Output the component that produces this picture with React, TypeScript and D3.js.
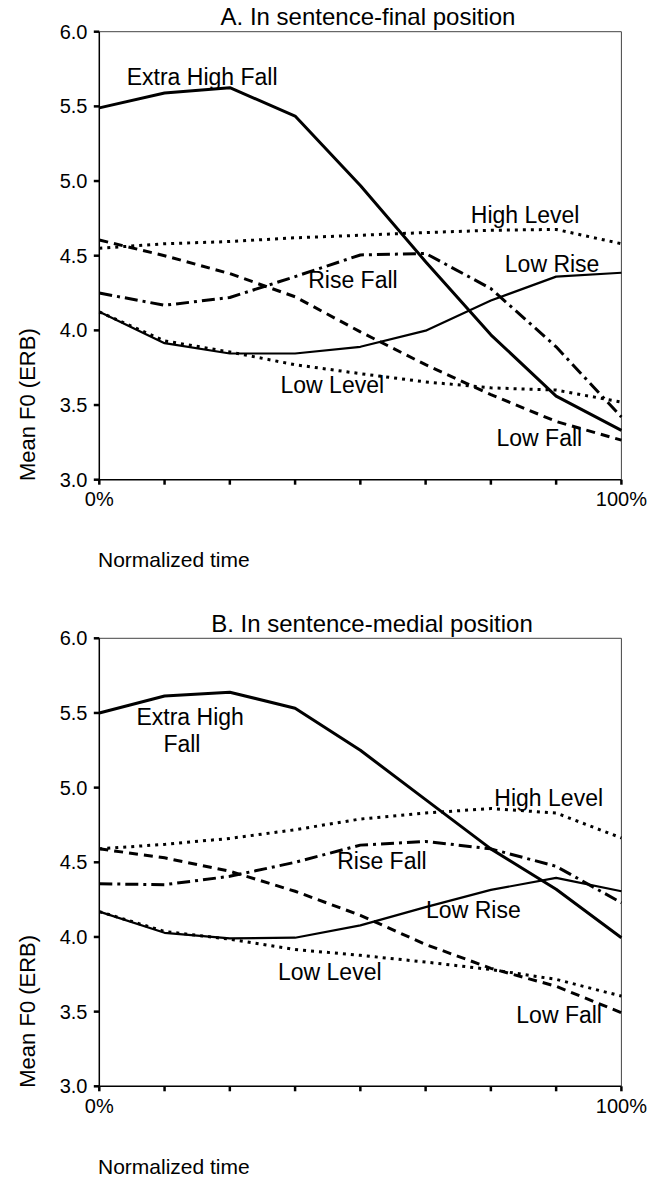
import React from 'react';
import * as d3 from 'd3';

// normalized time points (percent)
const TIME = [0, 12.5, 25, 37.5, 50, 62.5, 75, 87.5, 100];
const Y_TICKS = [3.0, 3.5, 4.0, 4.5, 5.0, 5.5, 6.0];
const X_TICK_LABELS: Record<number, string> = { 0: '0%', 100: '100%' };

// A. sentence-final
const FINAL_EXTRA_HIGH_FALL = [5.49, 5.59, 5.625, 5.435, 4.97, 4.46, 3.97, 3.56, 3.33];
const FINAL_HIGH_LEVEL = [4.55, 4.58, 4.595, 4.62, 4.637, 4.655, 4.67, 4.676, 4.58];
const FINAL_RISE_FALL = [4.25, 4.168, 4.22, 4.36, 4.505, 4.515, 4.28, 3.89, 3.42];
const FINAL_LOW_RISE = [4.124, 3.914, 3.845, 3.845, 3.89, 3.998, 4.2, 4.36, 4.386];
const FINAL_LOW_FALL = [4.605, 4.5, 4.38, 4.225, 3.99, 3.77, 3.57, 3.39, 3.265];
const FINAL_LOW_LEVEL = [4.124, 3.93, 3.855, 3.77, 3.71, 3.655, 3.615, 3.6, 3.52];

// B. sentence-medial
const MEDIAL_EXTRA_HIGH_FALL = [5.5, 5.614, 5.639, 5.532, 5.25, 4.92, 4.59, 4.32, 3.995];
const MEDIAL_HIGH_LEVEL = [4.59, 4.62, 4.66, 4.718, 4.79, 4.83, 4.86, 4.83, 4.663];
const MEDIAL_RISE_FALL = [4.356, 4.35, 4.406, 4.5, 4.615, 4.64, 4.59, 4.473, 4.229];
const MEDIAL_LOW_RISE = [4.17, 4.028, 3.99, 3.995, 4.078, 4.2, 4.315, 4.396, 4.306];
const MEDIAL_LOW_FALL = [4.59, 4.53, 4.44, 4.306, 4.145, 3.95, 3.79, 3.67, 3.493];
const MEDIAL_LOW_LEVEL = [4.17, 4.037, 3.985, 3.916, 3.877, 3.832, 3.782, 3.716, 3.604];

// line styles per tone
const STYLE = {
  extraHighFall: { width: 3, dash: null },
  highLevel: { width: 3, dash: '3,5' },
  riseFall: { width: 3, dash: '13,5,3,5' },
  lowRise: { width: 2.2, dash: null },
  lowFall: { width: 3, dash: '9,6' },
  lowLevel: { width: 3, dash: '3,5' },
};

// label anchors in data units (time %, ERB)
const FINAL_LABELS = [
  { text: 'Extra High Fall', t: 5.25, v: 5.643 },
  { text: 'High Level', t: 71.15, v: 4.72 },
  { text: 'Low Rise', t: 77.67, v: 4.391 },
  { text: 'Rise Fall', t: 40.01, v: 4.287 },
  { text: 'Low Level', t: 34.71, v: 3.578 },
  { text: 'Low Fall', t: 76.08, v: 3.223 },
];
const MEDIAL_LABELS = [
  { text: 'Extra High', t: 7.12, v: 5.419 },
  { text: 'Fall', t: 12.28, v: 5.237 },
  { text: 'High Level', t: 75.67, v: 4.879 },
  { text: 'Rise Fall', t: 45.57, v: 4.453 },
  { text: 'Low Rise', t: 62.59, v: 4.125 },
  { text: 'Low Level', t: 34.23, v: 3.712 },
  { text: 'Low Fall', t: 79.87, v: 3.422 },
];

const FONT = '"Liberation Sans", Arial, sans-serif';
const W = 647;
const H = 1177;
const PLOT_LEFT = 99.3;
const PLOT_RIGHT = 621.4;
const PLOT_H = 448;

const xScale = d3.scaleLinear().domain([0, 100]).range([PLOT_LEFT, PLOT_RIGHT]);

type Series = { key: keyof typeof STYLE; values: number[] };

const Panel = ({ top, title, titleX, series, labels }: {
  top: number; title: string; titleX: number; series: Series[];
  labels: { text: string; t: number; v: number }[];
}) => {
  const yScale = d3.scaleLinear().domain([3, 6]).range([top + PLOT_H, top]);
  const line = d3.line<number>()
    .x((_, i) => xScale(TIME[i]))
    .y((d) => yScale(d));
  const bottom = yScale(3);
  return (
    <g>
      <text x={titleX} y={top - 6.5} textAnchor="middle" fontSize={24} fontFamily={FONT}>{title}</text>
      {/* frame */}
      <line x1={PLOT_LEFT} x2={PLOT_RIGHT} y1={top} y2={top} stroke="#444" strokeWidth={1} />
      <line x1={PLOT_RIGHT} x2={PLOT_RIGHT} y1={top} y2={bottom} stroke="#444" strokeWidth={1} />
      <line x1={PLOT_LEFT} x2={PLOT_LEFT} y1={top} y2={bottom} stroke="#000" strokeWidth={1.5} />
      <line x1={PLOT_LEFT} x2={PLOT_RIGHT} y1={bottom} y2={bottom} stroke="#000" strokeWidth={1.5} />
      {Y_TICKS.map((v) => (
        <g key={v}>
          <line x1={PLOT_LEFT - 5.5} x2={PLOT_LEFT} y1={yScale(v)} y2={yScale(v)} stroke="#000" strokeWidth={2.5} />
          <text x={87.5} y={yScale(v) + 7} textAnchor="end" fontSize={20} fontFamily={FONT}>{v.toFixed(1)}</text>
        </g>
      ))}
      {TIME.map((t) => (
        <g key={t}>
          <line x1={xScale(t)} x2={xScale(t)} y1={bottom} y2={bottom + 5} stroke="#000" strokeWidth={2.5} />
          {X_TICK_LABELS[t] && (
            <text x={xScale(t)} y={bottom + 26.5} textAnchor="middle" fontSize={20} fontFamily={FONT}>{X_TICK_LABELS[t]}</text>
          )}
        </g>
      ))}
      <text transform={`translate(35, ${top + 373}) rotate(-90)`} textAnchor="middle" fontSize={22} fontFamily={FONT}>Mean F0 (ERB)</text>
      <text x={98} y={bottom + 87.5} fontSize={21} fontFamily={FONT}>Normalized time</text>
      {series.map((s) => (
        <path key={s.key} d={line(s.values) || ''} fill="none" stroke="#000"
          strokeWidth={STYLE[s.key].width}
          strokeDasharray={STYLE[s.key].dash || undefined}
          strokeLinejoin="round" />
      ))}
      {labels.map((l) => (
        <text key={l.text} x={xScale(l.t)} y={yScale(l.v)} fontSize={23} fontFamily={FONT}>{l.text}</text>
      ))}
    </g>
  );
};

export default function App() {
  return (
    <svg width={W} height={H} style={{ position: 'absolute', left: 0, top: 0, background: '#fff' }}>
      <rect width={W} height={H} fill="#fff" />
      <Panel top={31.7} title="A. In sentence-final position" titleX={368}
        labels={FINAL_LABELS}
        series={[
          { key: 'highLevel', values: FINAL_HIGH_LEVEL },
          { key: 'lowLevel', values: FINAL_LOW_LEVEL },
          { key: 'lowFall', values: FINAL_LOW_FALL },
          { key: 'riseFall', values: FINAL_RISE_FALL },
          { key: 'lowRise', values: FINAL_LOW_RISE },
          { key: 'extraHighFall', values: FINAL_EXTRA_HIGH_FALL },
        ]} />
      <Panel top={638.3} title="B. In sentence-medial position" titleX={372}
        labels={MEDIAL_LABELS}
        series={[
          { key: 'highLevel', values: MEDIAL_HIGH_LEVEL },
          { key: 'lowLevel', values: MEDIAL_LOW_LEVEL },
          { key: 'lowFall', values: MEDIAL_LOW_FALL },
          { key: 'riseFall', values: MEDIAL_RISE_FALL },
          { key: 'lowRise', values: MEDIAL_LOW_RISE },
          { key: 'extraHighFall', values: MEDIAL_EXTRA_HIGH_FALL },
        ]} />
    </svg>
  );
}
